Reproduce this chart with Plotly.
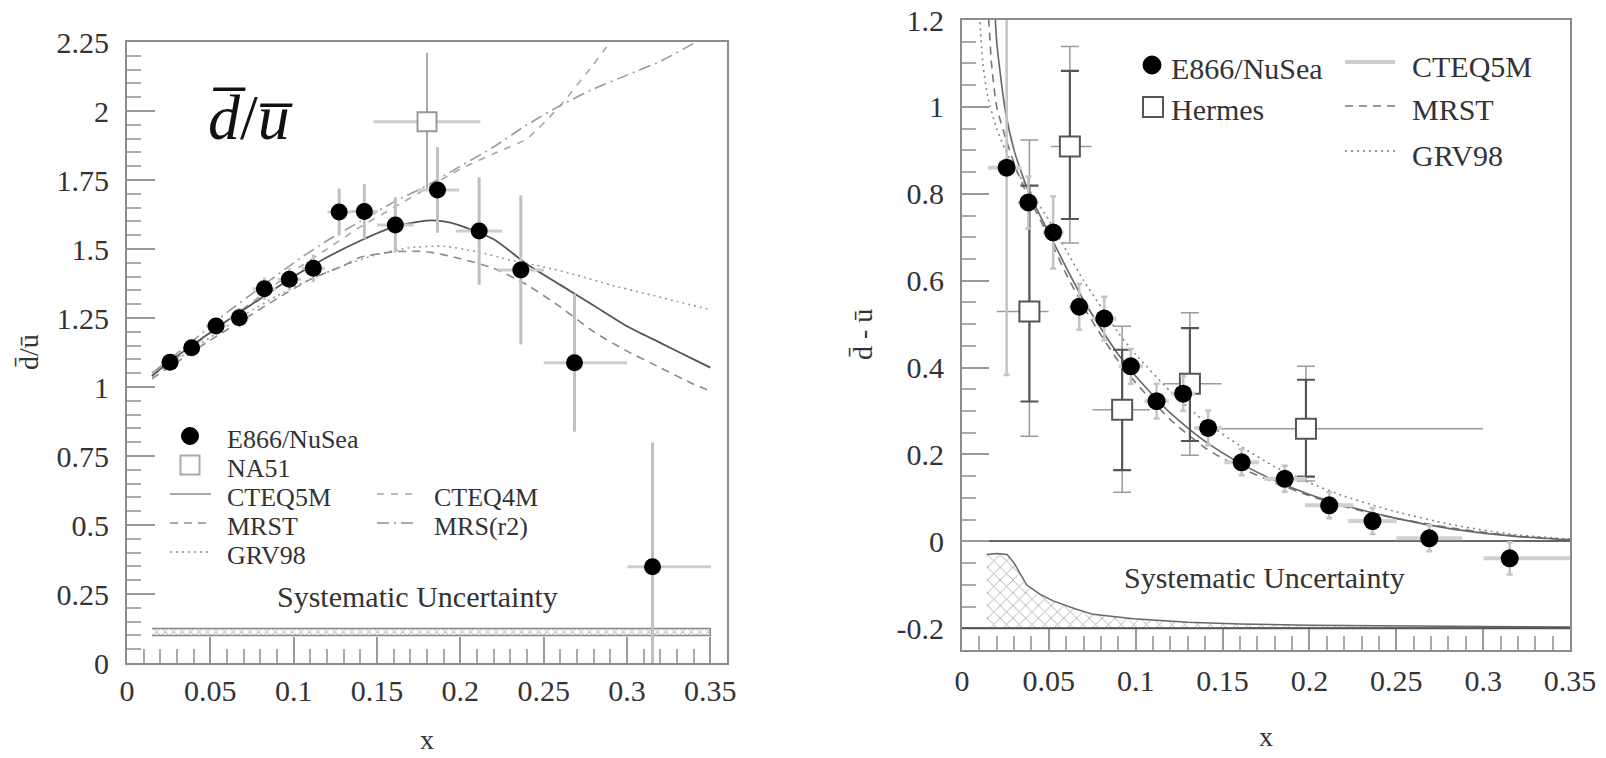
import plotly.graph_objects as go

W, H = 1606, 758
FONT = "Liberation Serif"
TXT = "#333333"

# ---------------- LEFT PANEL: dbar/ubar ----------------
E866_L_X = [0.0258, 0.0388, 0.0534, 0.0674, 0.0824, 0.0974, 0.1118, 0.1273, 0.1424, 0.161, 0.1863, 0.2113, 0.2363, 0.2685, 0.3153]
E866_L_Y = [1.090, 1.142, 1.221, 1.251, 1.356, 1.390, 1.430, 1.634, 1.636, 1.587, 1.714, 1.565, 1.424, 1.088, 0.349]
E866_L_YERR = [0.03, 0.03, 0.03, 0.035, 0.04, 0.04, 0.05, 0.085, 0.10, 0.10, 0.155, 0.195, 0.27, 0.25, 0.45]
E866_L_XERR_M = [0.005, 0.005, 0.006, 0.006, 0.007, 0.007, 0.007, 0.007, 0.008, 0.011, 0.012, 0.014, 0.014, 0.0185, 0.015]
E866_L_XERR_P = [0.005, 0.005, 0.006, 0.006, 0.007, 0.007, 0.007, 0.007, 0.008, 0.011, 0.013, 0.014, 0.014, 0.0315, 0.035]

NA51_X = [0.18]
NA51_Y = [1.961]
NA51_YERR = [0.25]
NA51_XERR = [0.032]

CTEQ5M_L_X = [0.015, 0.025, 0.04, 0.06, 0.08, 0.10, 0.12, 0.14, 0.16, 0.18, 0.19, 0.20, 0.22, 0.24, 0.26, 0.28, 0.30, 0.32, 0.34, 0.35]
CTEQ5M_L_Y = [1.04, 1.09, 1.155, 1.24, 1.32, 1.40, 1.47, 1.53, 1.58, 1.603, 1.60, 1.585, 1.535, 1.445, 1.37, 1.295, 1.22, 1.16, 1.10, 1.07]
MRST_L_X = [0.015, 0.03, 0.05, 0.07, 0.09, 0.11, 0.13, 0.14, 0.16, 0.18, 0.20, 0.22, 0.24, 0.26, 0.28, 0.30, 0.32, 0.34, 0.35]
MRST_L_Y = [1.03, 1.09, 1.17, 1.245, 1.32, 1.39, 1.44, 1.47, 1.49, 1.49, 1.465, 1.43, 1.37, 1.29, 1.20, 1.13, 1.07, 1.01, 0.985]
GRV98_L_X = [0.015, 0.03, 0.05, 0.07, 0.09, 0.11, 0.13, 0.15, 0.17, 0.19, 0.21, 0.23, 0.25, 0.27, 0.29, 0.31, 0.33, 0.35]
GRV98_L_Y = [1.04, 1.10, 1.18, 1.26, 1.33, 1.39, 1.44, 1.48, 1.505, 1.51, 1.49, 1.46, 1.435, 1.405, 1.37, 1.34, 1.31, 1.28]
CTEQ4M_L_X = [0.015, 0.04, 0.06, 0.08, 0.10, 0.12, 0.14, 0.16, 0.18, 0.20, 0.22, 0.24, 0.26, 0.28, 0.29, 0.30]
CTEQ4M_L_Y = [1.04, 1.15, 1.24, 1.33, 1.42, 1.50, 1.58, 1.65, 1.72, 1.79, 1.845, 1.90, 2.02, 2.17, 2.25, 2.33]
MRSR2_L_X = [0.015, 0.04, 0.06, 0.08, 0.10, 0.12, 0.14, 0.16, 0.18, 0.20, 0.22, 0.24, 0.26, 0.28, 0.30, 0.32, 0.34, 0.35]
MRSR2_L_Y = [1.05, 1.17, 1.27, 1.36, 1.45, 1.53, 1.60, 1.67, 1.73, 1.80, 1.87, 1.95, 2.02, 2.08, 2.13, 2.18, 2.245, 2.28]

SYS_L_X = [0.015, 0.35]
SYS_L_LO = [0.100, 0.100]
SYS_L_HI = [0.125, 0.125]

L_XTICKS = [0, 0.05, 0.10, 0.15, 0.20, 0.25, 0.30, 0.35]
L_XTICKTEXT = ["0", "0.05", "0.1", "0.15", "0.2", "0.25", "0.3", "0.35"]
L_YTICKS = [0, 0.25, 0.5, 0.75, 1.0, 1.25, 1.5, 1.75, 2.0, 2.25]
L_YTICKTEXT = ["0", "0.25", "0.5", "0.75", "1", "1.25", "1.5", "1.75", "2", "2.25"]

# ---------------- RIGHT PANEL: dbar - ubar ----------------
E866_R_X = [0.0257, 0.0382, 0.0525, 0.0675, 0.0819, 0.0972, 0.112, 0.1273, 0.1417, 0.161, 0.1858, 0.2114, 0.2363, 0.269, 0.3153]
E866_R_Y = [0.860, 0.780, 0.711, 0.540, 0.513, 0.403, 0.3226, 0.340, 0.261, 0.182, 0.144, 0.083, 0.0467, 0.007, -0.039]
E866_R_YERR = [0.477, 0.06, 0.083, 0.053, 0.05, 0.04, 0.04, 0.04, 0.04, 0.03, 0.03, 0.03, 0.03, 0.03, 0.037]
E866_R_XERR_M = [0.0107, 0.006, 0.006, 0.006, 0.007, 0.007, 0.007, 0.007, 0.008, 0.01, 0.012, 0.014, 0.014, 0.019, 0.015]
E866_R_XERR_P = [0.0086, 0.006, 0.006, 0.006, 0.007, 0.007, 0.007, 0.007, 0.008, 0.01, 0.012, 0.014, 0.014, 0.019, 0.035]

HERMES_X = [0.0388, 0.0621, 0.0922, 0.1312, 0.198]
HERMES_Y = [0.529, 0.909, 0.303, 0.363, 0.259]
HERMES_STAT_P = [0.29, 0.174, 0.138, 0.128, 0.113]
HERMES_STAT_M = [0.207, 0.167, 0.139, 0.132, 0.110]
HERMES_TOT_P = [0.395, 0.23, 0.192, 0.163, 0.144]
HERMES_TOT_M = [0.287, 0.222, 0.190, 0.165, 0.120]
HERMES_XERR_M = [0.0188, 0.011, 0.017, 0.0152, 0.0565]
HERMES_XERR_P = [0.011, 0.0125, 0.016, 0.0182, 0.102]

CTEQ5M_R_X = [0.017, 0.02, 0.025, 0.03, 0.035, 0.04, 0.05, 0.06, 0.07, 0.08, 0.09, 0.10, 0.12, 0.14, 0.16, 0.18, 0.20, 0.22, 0.25, 0.28, 0.30, 0.32, 0.35]
CTEQ5M_R_Y = [1.40, 1.15, 0.99, 0.90, 0.84, 0.79, 0.71, 0.63, 0.555, 0.49, 0.43, 0.38, 0.295, 0.23, 0.18, 0.14, 0.108, 0.083, 0.053, 0.03, 0.019, 0.011, 0.003]
MRST_R_X = [0.014, 0.017, 0.02, 0.025, 0.03, 0.035, 0.04, 0.05, 0.06, 0.07, 0.08, 0.09, 0.10, 0.12, 0.14, 0.16, 0.18, 0.20, 0.22, 0.25, 0.28, 0.30, 0.32, 0.35]
MRST_R_Y = [1.30, 1.10, 1.00, 0.93, 0.87, 0.82, 0.78, 0.70, 0.615, 0.54, 0.475, 0.415, 0.365, 0.28, 0.215, 0.17, 0.135, 0.105, 0.08, 0.053, 0.032, 0.021, 0.012, 0.004]
GRV98_R_X = [0.0095, 0.012, 0.015, 0.02, 0.025, 0.03, 0.035, 0.04, 0.05, 0.06, 0.07, 0.08, 0.09, 0.10, 0.12, 0.14, 0.16, 0.18, 0.20, 0.22, 0.25, 0.28, 0.30, 0.32, 0.35]
GRV98_R_Y = [1.25, 1.10, 1.02, 0.95, 0.90, 0.86, 0.83, 0.80, 0.74, 0.67, 0.60, 0.54, 0.48, 0.43, 0.345, 0.275, 0.22, 0.172, 0.135, 0.104, 0.068, 0.04, 0.026, 0.015, 0.005]

SYS_R_X = [0.0142, 0.02, 0.026, 0.03, 0.0372, 0.045, 0.0525, 0.065, 0.0755, 0.0986, 0.13, 0.16, 0.20, 0.25, 0.30, 0.35]
SYS_R_HI = [-0.03, -0.028, -0.03, -0.05, -0.10, -0.122, -0.137, -0.155, -0.168, -0.178, -0.186, -0.19, -0.193, -0.195, -0.196, -0.197]
SYS_R_BASE = -0.2

R_XTICKS = [0, 0.05, 0.10, 0.15, 0.20, 0.25, 0.30, 0.35]
R_XTICKTEXT = ["0", "0.05", "0.1", "0.15", "0.2", "0.25", "0.3", "0.35"]
R_YTICKS = [-0.2, 0, 0.2, 0.4, 0.6, 0.8, 1.0, 1.2]
R_YTICKTEXT = ["-0.2", "0", "0.2", "0.4", "0.6", "0.8", "1", "1.2"]

# ---------------- helpers (pixel -> paper) ----------------
def px(X):
    return X / W

def py(Y):
    return 1 - Y / H

fig = go.Figure()

# ---- left panel traces ----
fig.add_trace(go.Scatter(
    x=SYS_L_X + SYS_L_X[::-1], y=SYS_L_HI + SYS_L_LO[::-1],
    fill="toself", mode="lines", line=dict(color="#888888", width=1.5),
    fillcolor="white",
    fillpattern=dict(shape="x", size=6, solidity=0.35, fgcolor="#8a8a8a", bgcolor="white"),
    xaxis="x", yaxis="y", showlegend=False, hoverinfo="skip"))

def curve(xs, ys, color, dash, width, xa, ya, name):
    return go.Scatter(x=xs, y=ys, mode="lines", name=name,
                      line=dict(color=color, dash=dash, width=width, shape="spline", smoothing=0.6),
                      xaxis=xa, yaxis=ya, showlegend=False)

fig.add_trace(curve(CTEQ4M_L_X, CTEQ4M_L_Y, "#a8a8a8", "7px,7px", 1.6, "x", "y", "CTEQ4M"))
fig.add_trace(curve(MRSR2_L_X, MRSR2_L_Y, "#9a9a9a", "12px,5px,2px,5px", 1.6, "x", "y", "MRS(r2)"))
fig.add_trace(curve(GRV98_L_X, GRV98_L_Y, "#9a9a9a", "2px,4px", 1.6, "x", "y", "GRV98"))
fig.add_trace(curve(MRST_L_X, MRST_L_Y, "#8a8a8a", "8px,6px", 1.6, "x", "y", "MRST"))
fig.add_trace(curve(CTEQ5M_L_X, CTEQ5M_L_Y, "#555555", "solid", 1.8, "x", "y", "CTEQ5M"))

fig.add_trace(go.Scatter(
    x=NA51_X, y=NA51_Y, mode="markers", name="NA51",
    marker=dict(symbol="square", size=19, color="white", line=dict(color="#999999", width=2)),
    error_y=dict(type="data", array=NA51_YERR, color="#aaaaaa", thickness=2, width=0),
    error_x=dict(type="data", array=NA51_XERR, color="#cccccc", thickness=3, width=0),
    xaxis="x", yaxis="y", showlegend=False))

fig.add_trace(go.Scatter(
    x=E866_L_X, y=E866_L_Y, mode="markers", name="E866/NuSea",
    marker=dict(symbol="circle", size=17, color="black"),
    error_y=dict(type="data", array=E866_L_YERR, color="#c0c0c0", thickness=3, width=0),
    error_x=dict(type="data", array=E866_L_XERR_P, arrayminus=E866_L_XERR_M, color="#cccccc", thickness=3, width=0),
    xaxis="x", yaxis="y", showlegend=False))

# ---- right panel traces ----
fig.add_trace(go.Scatter(
    x=SYS_R_X + SYS_R_X[::-1], y=SYS_R_HI + [SYS_R_BASE] * len(SYS_R_X),
    fill="toself", mode="lines", line=dict(color="#666666", width=1.5),
    fillcolor="white",
    fillpattern=dict(shape="x", size=9, solidity=0.2, fgcolor="#666666", bgcolor="white"),
    xaxis="x2", yaxis="y2", showlegend=False, hoverinfo="skip"))

fig.add_trace(curve(GRV98_R_X, GRV98_R_Y, "#888888", "2px,4px", 1.6, "x2", "y2", "GRV98"))
fig.add_trace(curve(MRST_R_X, MRST_R_Y, "#777777", "8px,6px", 1.6, "x2", "y2", "MRST"))
fig.add_trace(curve(CTEQ5M_R_X, CTEQ5M_R_Y, "#666666", "solid", 1.6, "x2", "y2", "CTEQ5M"))

fig.add_trace(go.Scatter(
    x=HERMES_X, y=HERMES_Y, mode="markers", name="Hermes total",
    marker=dict(size=1, color="rgba(0,0,0,0)"),
    error_y=dict(type="data", array=HERMES_TOT_P, arrayminus=HERMES_TOT_M, color="#9a9a9a", thickness=1.5, width=9),
    error_x=dict(type="data", array=HERMES_XERR_P, arrayminus=HERMES_XERR_M, color="#9a9a9a", thickness=1.5, width=0),
    xaxis="x2", yaxis="y2", showlegend=False))
fig.add_trace(go.Scatter(
    x=HERMES_X, y=HERMES_Y, mode="markers", name="Hermes",
    marker=dict(symbol="square", size=20, color="white", line=dict(color="#555555", width=2)),
    error_y=dict(type="data", array=HERMES_STAT_P, arrayminus=HERMES_STAT_M, color="#555555", thickness=2.2, width=9),
    xaxis="x2", yaxis="y2", showlegend=False))

fig.add_trace(go.Scatter(
    x=E866_R_X, y=E866_R_Y, mode="markers", name="E866/NuSea",
    marker=dict(symbol="circle", size=18, color="black"),
    error_y=dict(type="data", array=E866_R_YERR, color="#c4c4c4", thickness=2.5, width=3),
    error_x=dict(type="data", array=E866_R_XERR_P, arrayminus=E866_R_XERR_M, color="#d0d0d0", thickness=4, width=0),
    xaxis="x2", yaxis="y2", showlegend=False))

# ---------------- axes ----------------
def axis(tickvals, ticktext, rng, domain, anchor, ticklen, minor_dtick, standoff, **kw):
    d = dict(range=rng, domain=domain, anchor=anchor, automargin=False,
             showgrid=False, zeroline=False,
             showline=True, linecolor="#8c8c8c", linewidth=2, mirror=True,
             ticks="inside", ticklen=ticklen, tickwidth=2, tickcolor="#999999",
             tickvals=tickvals, ticktext=ticktext,
             tickfont=dict(family=FONT, size=30, color=TXT),
             ticklabelstandoff=standoff,
             minor=dict(ticks="inside", ticklen=14, tickwidth=2, tickcolor="#aaaaaa",
                        dtick=minor_dtick, tick0=0, showgrid=False))
    d.update(kw)
    return d

LX0, LX1, LY0, LY1 = 127, 727, 42, 663
RX0, RX1, RY0, RY1 = 962, 1570, 20, 650

fig.update_layout(
    width=W, height=H, autosize=False,
    margin=dict(l=0, r=0, t=0, b=0, autoexpand=False),
    paper_bgcolor="white", plot_bgcolor="white",
    font=dict(family=FONT, color=TXT),
    xaxis=axis(L_XTICKS, L_XTICKTEXT, [0, 0.36], [px(LX0), px(LX1)], "y", 26, 0.01, 0),
    yaxis=axis(L_YTICKS, L_YTICKTEXT, [0, 2.25], [py(LY1), py(LY0)], "x", 28, 0.05, 10),
    xaxis2=axis(R_XTICKS, R_XTICKTEXT, [0, 0.35], [px(RX0), px(RX1)], "y2", 22, 0.01, 3),
    yaxis2=axis(R_YTICKS, R_YTICKTEXT, [-0.25, 1.2], [py(RY1), py(RY0)], "x2", 27, 0.05, 10,
                zeroline=True, zerolinecolor="#666666", zerolinewidth=2),
)

shapes = []
annotations = []

# baseline of systematic band (right panel)
shapes.append(dict(type="line", xref="x2 domain", yref="y2", x0=0, x1=1, y0=SYS_R_BASE, y1=SYS_R_BASE,
                   line=dict(color="#555555", width=2), layer="above"))

def txt(X, Y, s, size=30, anchor="left", angle=0, color=TXT, yanchor="middle"):
    annotations.append(dict(xref="paper", yref="paper", x=px(X), y=py(Y), text=s, showarrow=False,
                            xanchor=anchor, yanchor=yanchor, textangle=angle, borderpad=0,
                            font=dict(family=FONT, size=size, color=color)))

def circle(cx, cy, d):
    r = d / 2
    shapes.append(dict(type="circle", xref="paper", yref="paper",
                       x0=px(cx - r), x1=px(cx + r), y0=py(cy + r), y1=py(cy - r),
                       fillcolor="black", line=dict(color="black", width=1)))

def square(cx, cy, s, color):
    r = s / 2
    shapes.append(dict(type="rect", xref="paper", yref="paper",
                       x0=px(cx - r), x1=px(cx + r), y0=py(cy + r), y1=py(cy - r),
                       fillcolor="white", line=dict(color=color, width=2)))

def sample(x0, x1, y, color, dash, width):
    shapes.append(dict(type="line", xref="paper", yref="paper",
                       x0=px(x0), x1=px(x1), y0=py(y), y1=py(y),
                       line=dict(color=color, dash=dash, width=width)))

# left legend (rows 29 px apart)
LEG = 26
circle(190, 436, 17); txt(226, 439, "E866/NuSea", LEG)
square(190, 465, 19, "#aaaaaa"); txt(226, 468, "NA51", LEG)
sample(170, 211, 494, "#aaaaaa", "solid", 2); txt(226, 497, "CTEQ5M", LEG)
sample(170, 211, 523, "#aaaaaa", "8px,6px", 2); txt(226, 526, "MRST", LEG)
sample(170, 211, 552, "#aaaaaa", "2px,4px", 2); txt(226, 555, "GRV98", LEG)
sample(377, 418, 494, "#bbbbbb", "7px,7px", 2); txt(433, 497, "CTEQ4M", LEG)
sample(377, 418, 523, "#aaaaaa", "12px,5px,2px,5px", 2); txt(433, 526, "MRS(r2)", LEG)

# right legend
circle(1152, 65, 18); txt(1170, 68, "E866/NuSea")
square(1153, 107, 20, "#555555"); txt(1170, 110, "Hermes")
sample(1345, 1395, 62, "#cccccc", "solid", 4); txt(1411, 67, "CTEQ5M")
sample(1345, 1395, 106, "#999999", "8px,6px", 2); txt(1411, 110, "MRST")
sample(1345, 1395, 151, "#999999", "2px,4px", 2); txt(1411, 155, "GRV98")

# systematic uncertainty labels (data coords)
annotations.append(dict(xref="x", yref="y", x=0.174, y=0.24, text="Systematic Uncertainty", showarrow=False,
                        xanchor="center", yanchor="middle", font=dict(family=FONT, size=30, color=TXT)))
annotations.append(dict(xref="x2", yref="y2", x=0.1743, y=-0.0835, text="Systematic Uncertainty", showarrow=False,
                        xanchor="center", yanchor="middle", font=dict(family=FONT, size=30, color=TXT)))

# big panel label
annotations.append(dict(xref="x", yref="y", x=0.074, y=1.975,
                        text="<i>d\u0305</i>/<i>u\u0305</i>", showarrow=False,
                        xanchor="center", yanchor="middle", font=dict(family=FONT, size=64, color="#111111")))

# axis titles
txt(427, 756, "x", size=28, anchor="center", yanchor="bottom")
txt(1266, 736, "x", size=28, anchor="center")
txt(28, 352, "d\u0304/\u016b", size=28, anchor="center", angle=-90)
txt(862, 335, "d\u0304 - \u016b", size=28, anchor="center", angle=-90)

fig.update_layout(shapes=shapes, annotations=annotations)

fig.write_html("out.html")
